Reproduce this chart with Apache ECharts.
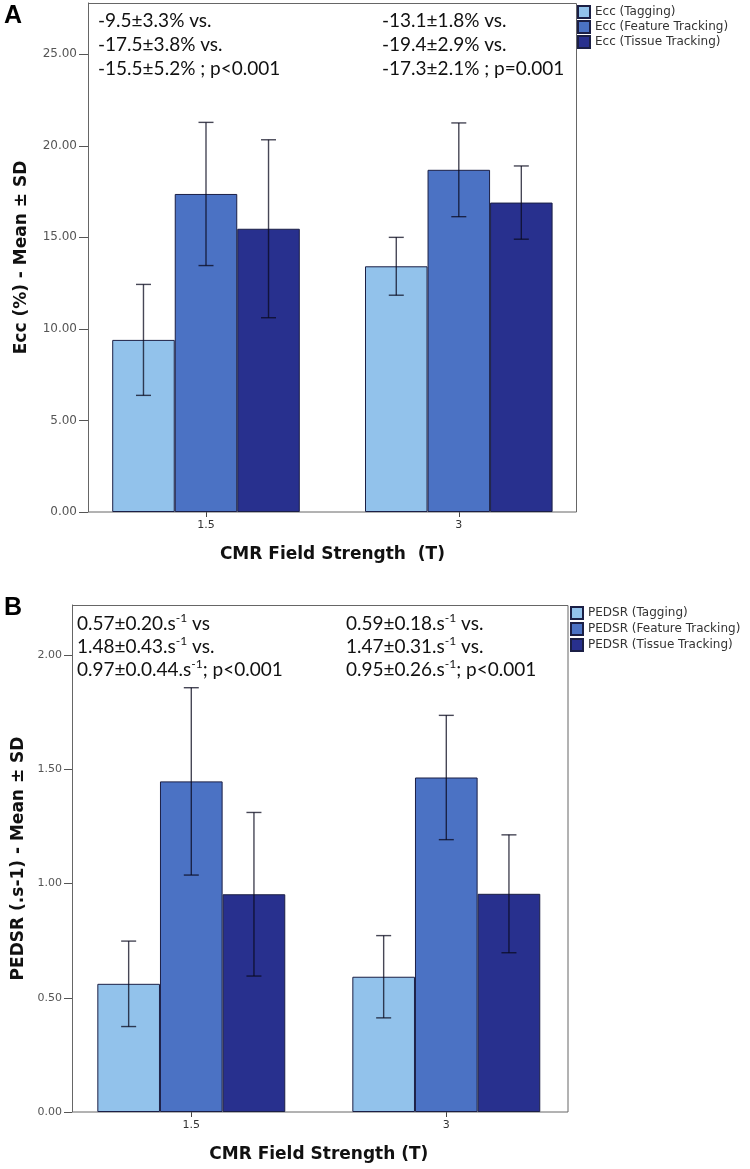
<!DOCTYPE html>
<html><head><meta charset="utf-8">
<script src="https://cdn.jsdelivr.net/npm/echarts@6/dist/echarts.min.js"></script>
<style>html,body{margin:0;padding:0;background:#fff}#c{width:750px;height:1169px}</style>
</head><body><div id="c"></div>
<script>
// ---------- data ----------
const categories = ['1.5', '3'];

const eccNames = ['Ecc (Tagging)', 'Ecc (Feature Tracking)', 'Ecc (Tissue Tracking)'];
const eccTaggingMean = [9.40, 13.42];
const eccFeatureMean = [17.37, 18.69];
const eccTissueMean  = [15.47, 16.90];
const eccTaggingSD   = [3.03, 1.58];
const eccFeatureSD   = [3.91, 2.56];
const eccTissueSD    = [4.86, 2.00];
const eccTicks = [0, 5, 10, 15, 20, 25];

const pedsrNames = ['PEDSR (Tagging)', 'PEDSR (Feature Tracking)', 'PEDSR (Tissue Tracking)'];
const pedsrTaggingMean = [0.561, 0.592];
const pedsrFeatureMean = [1.447, 1.464];
const pedsrTissueMean  = [0.953, 0.955];
const pedsrTaggingSD   = [0.187, 0.180];
const pedsrFeatureSD   = [0.410, 0.272];
const pedsrTissueSD    = [0.358, 0.258];
const pedsrTicks = [0, 0.5, 1, 1.5, 2];

const eccNoteLeft  = ['-9.5±3.3% vs.', '-17.5±3.8% vs.', '-15.5±5.2% ; p<0.001'];
const eccNoteRight = ['-13.1±1.8% vs.', '-19.4±2.9% vs.', '-17.3±2.1% ; p=0.001'];
const pedsrNoteLeft  = [['0.57±0.20.s', ' vs'], ['1.48±0.43.s', ' vs.'], ['0.97±0.0.44.s', '; p<0.001']];
const pedsrNoteRight = [['0.59±0.18.s', ' vs.'], ['1.47±0.31.s', ' vs.'], ['0.95±0.26.s', '; p<0.001']];

// ---------- style ----------
const colors = ['#92c2eb', '#4b72c4', '#28308e'];
const GAP_A = 0.258, GAP_B = 0.263;
const tickFont = 'DejaVu Sans';

function barSeries(name, data, idx, axis, gap) {
  return {
    name: name, type: 'bar', xAxisIndex: axis, yAxisIndex: axis, data: data,
    barGap: '0%', barCategoryGap: (gap * 100) + '%',
    itemStyle: { color: colors[idx], borderColor: '#1b1f45', borderWidth: 1 },
    emphasis: { disabled: true }, z: 2
  };
}
function errSeries(means, sds, idx, axis, gap) {
  return {
    type: 'custom', name: 'err' + axis + idx, xAxisIndex: axis, yAxisIndex: axis, z: 5,
    data: means.map((m, i) => [i, m - sds[i], m + sds[i]]),
    renderItem: function (params, api) {
      const ci = api.value(0);
      const lo = api.coord([ci, api.value(1)]);
      const hi = api.coord([ci, api.value(2)]);
      const catW = api.size([1, 0])[0];
      const bw = catW * (1 - gap) / 3;
      const x = lo[0] + (idx - 1) * bw;
      const cap = 7.5;
      const st = { stroke: 'rgba(10,10,30,0.75)', lineWidth: 1.4 };
      return { type: 'group', children: [
        { type: 'line', shape: { x1: x, y1: lo[1], x2: x, y2: hi[1] }, style: st },
        { type: 'line', shape: { x1: x - cap, y1: lo[1], x2: x + cap, y2: lo[1] }, style: st },
        { type: 'line', shape: { x1: x - cap, y1: hi[1], x2: x + cap, y2: hi[1] }, style: st }
      ]};
    }
  };
}

function noteText(lines, x, y) {
  return { type: 'text', x: x, y: y, z: 10,
    style: { text: lines.join('\n'), font: '19px Lato', fill: '#111', lineHeight: 24, verticalAlign: 'top' } };
}
function noteRich(lines, x, y) {
  const txt = lines.map(l => l[0] + '{sup|-1}' + l[1]).join('\n');
  return { type: 'text', x: x, y: y, z: 10,
    style: { text: txt, font: '19px Lato', fill: '#111', lineHeight: 23, verticalAlign: 'top',
      rich: { sup: { fontSize: 12, fontFamily: 'Lato', verticalAlign: 'top', lineHeight: 12, fill: '#111' } } } };
}

const option = {
  animation: false,
  backgroundColor: '#fff',
  grid: [
    { left: 79.6, top: 3, width: 505.6, height: 509 },
    { left: 63.8, top: 605, width: 510, height: 507 }
  ],
  legend: [
    { data: eccNames, orient: 'vertical', left: 577, top: 5, itemWidth: 12, itemHeight: 12, itemGap: 1,
      icon: 'rect', padding: 0, selectedMode: false,
      textStyle: { fontFamily: tickFont, fontSize: 12, color: '#333' } },
    { data: pedsrNames, orient: 'vertical', left: 570, top: 606, itemWidth: 12, itemHeight: 12, itemGap: 2,
      icon: 'rect', padding: 0, selectedMode: false,
      textStyle: { fontFamily: tickFont, fontSize: 12, color: '#333' } }
  ],
  xAxis: [0, 1].map(i => ({
    gridIndex: i, type: 'category', data: categories,
    axisLine: { show: false },
    axisTick: { show: true, alignWithLabel: true, length: 5, lineStyle: { color: '#444' } },
    axisLabel: { fontFamily: tickFont, fontSize: 11, color: '#333', margin: 8 },
    name: i === 0 ? 'CMR Field Strength  (T)' : 'CMR Field Strength (T)',
    nameLocation: 'middle', nameGap: 34,
    nameTextStyle: { fontFamily: 'DejaVu Sans', fontWeight: 'bold', fontSize: 17, color: '#111' }
  })),
  yAxis: [
    { gridIndex: 0, type: 'value', min: 0, max: 27.8, offset: -8.4,
      axisLine: { show: true, lineStyle: { color: '#555' } },
      axisTick: { show: true, length: 9, customValues: eccTicks, lineStyle: { color: '#555' } },
      axisLabel: { customValues: eccTicks, formatter: v => v.toFixed(2), fontFamily: tickFont, fontSize: 12, color: '#555', margin: 11 },
      splitLine: { show: false },
      name: 'Ecc (%) - Mean ± SD', nameLocation: 'middle', nameGap: 58, nameRotate: 90,
      nameTextStyle: { fontFamily: 'DejaVu Sans', fontWeight: 'bold', fontSize: 17, color: '#111' } },
    { gridIndex: 1, type: 'value', min: 0, max: 2.219, offset: -8.2,
      axisLine: { show: true, lineStyle: { color: '#555' } },
      axisTick: { show: true, length: 8, customValues: pedsrTicks, lineStyle: { color: '#555' } },
      axisLabel: { customValues: pedsrTicks, formatter: v => v.toFixed(2), fontFamily: tickFont, fontSize: 11, color: '#555', margin: 10 },
      splitLine: { show: false },
      name: 'PEDSR (.s-1) - Mean ± SD', nameLocation: 'middle', nameGap: 44, nameRotate: 90,
      nameTextStyle: { fontFamily: 'DejaVu Sans', fontWeight: 'bold', fontSize: 17, color: '#111' } }
  ],
  graphic: [
    { type: 'rect', shape: { x: 88.5, y: 3.5, width: 488, height: 508.5 }, style: { fill: 'none', stroke: '#666', lineWidth: 1 }, z: 1, silent: true },
    { type: 'rect', shape: { x: 72.5, y: 605.5, width: 495.5, height: 506.5 }, style: { fill: 'none', stroke: '#666', lineWidth: 1 }, z: 1, silent: true },
    { type: 'text', x: 4, y: 4, style: { text: 'A', font: 'bold 25px "Liberation Sans"', fill: '#000', verticalAlign: 'top' } },
    { type: 'text', x: 4, y: 596, style: { text: 'B', font: 'bold 25px "Liberation Sans"', fill: '#000', verticalAlign: 'top' } },
    noteText(eccNoteLeft, 98, 9),
    noteText(eccNoteRight, 382, 9),
    noteRich(pedsrNoteLeft, 77, 612),
    noteRich(pedsrNoteRight, 346, 612)
  ],
  series: [
    barSeries(eccNames[0], eccTaggingMean, 0, 0, GAP_A),
    barSeries(eccNames[1], eccFeatureMean, 1, 0, GAP_A),
    barSeries(eccNames[2], eccTissueMean, 2, 0, GAP_A),
    errSeries(eccTaggingMean, eccTaggingSD, 0, 0, GAP_A),
    errSeries(eccFeatureMean, eccFeatureSD, 1, 0, GAP_A),
    errSeries(eccTissueMean, eccTissueSD, 2, 0, GAP_A),
    barSeries(pedsrNames[0], pedsrTaggingMean, 0, 1, GAP_B),
    barSeries(pedsrNames[1], pedsrFeatureMean, 1, 1, GAP_B),
    barSeries(pedsrNames[2], pedsrTissueMean, 2, 1, GAP_B),
    errSeries(pedsrTaggingMean, pedsrTaggingSD, 0, 1, GAP_B),
    errSeries(pedsrFeatureMean, pedsrFeatureSD, 1, 1, GAP_B),
    errSeries(pedsrTissueMean, pedsrTissueSD, 2, 1, GAP_B)
  ]
};
const chart = echarts.init(document.getElementById('c'));
chart.setOption(option);
</script>
</body></html>
